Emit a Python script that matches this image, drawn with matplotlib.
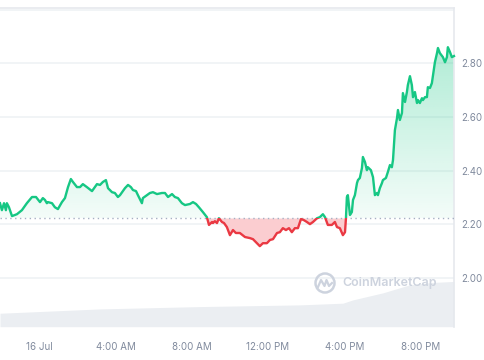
import matplotlib.pyplot as plt
import numpy as np
from matplotlib.patches import Rectangle, Circle
from matplotlib.path import Path

plt.rcParams['font.family'] = ['Inter', 'DejaVu Sans']

# price, hours relative to 16 Jul 00:00
hours = [-2.07, -1.97, -1.86, -1.76, -1.71, -1.60, -1.44, -1.18, -0.92, -0.66,
         -0.39, -0.18, 0.03, 0.18, 0.29, 0.39, 0.45, 0.66, 0.81, 0.97,
         1.18, 1.34, 1.50, 1.65, 1.76, 1.97, 2.13, 2.28, 2.49, 2.76,
         3.02, 3.18, 3.33, 3.49, 3.60, 3.81, 3.96, 4.12, 4.23, 4.49,
         4.65, 4.80, 4.91, 5.07, 5.17, 5.38, 5.43, 5.64, 5.80, 5.96,
         6.17, 6.43, 6.59, 6.75, 6.96, 7.11, 7.27, 7.48, 7.64, 7.90,
         8.06, 8.22, 8.37, 8.58, 8.79, 8.90, 9.06, 9.11, 9.21, 9.32,
         9.42, 9.58, 9.69, 9.84, 10.00, 10.16, 10.31, 10.52, 10.79, 11.05,
         11.21, 11.42, 11.57, 11.73, 11.94, 12.10, 12.26, 12.47, 12.62, 12.78,
         12.94, 13.10, 13.25, 13.41, 13.57, 13.73, 13.88, 14.04, 14.20, 14.36,
         14.57, 14.72, 14.88, 14.99, 15.14, 15.35, 15.51, 15.62, 15.77, 15.93,
         16.04, 16.09, 16.14, 16.19, 16.30, 16.40, 16.46, 16.56, 16.67, 16.72,
         16.82, 16.93, 16.98, 17.09, 17.19, 17.24, 17.40, 17.51, 17.61, 17.72,
         17.77, 17.87, 17.98, 18.03, 18.19, 18.29, 18.40, 18.50, 18.56, 18.66,
         18.77, 18.82, 18.92, 19.03, 19.08, 19.19, 19.29, 19.34, 19.45, 19.55,
         19.61, 19.71, 19.82, 19.87, 19.97, 20.08, 20.13, 20.24, 20.34, 20.39,
         20.50, 20.60, 20.66, 20.76, 20.87, 20.92, 21.02, 21.18, 21.29, 21.39,
         21.44, 21.55, 21.65, 21.76]
prices = [2.279, 2.253, 2.279, 2.253, 2.279, 2.264, 2.231, 2.238, 2.253, 2.279,
          2.302, 2.302, 2.283, 2.298, 2.291, 2.279, 2.283, 2.279, 2.264, 2.257,
          2.283, 2.298, 2.339, 2.369, 2.358, 2.339, 2.339, 2.350, 2.339, 2.324,
          2.350, 2.347, 2.358, 2.365, 2.335, 2.320, 2.317, 2.302, 2.309, 2.335,
          2.347, 2.339, 2.328, 2.324, 2.309, 2.279, 2.298, 2.309, 2.317, 2.320,
          2.313, 2.317, 2.317, 2.302, 2.313, 2.302, 2.298, 2.279, 2.272, 2.276,
          2.283, 2.276, 2.264, 2.246, 2.227, 2.198, 2.209, 2.205, 2.212, 2.205,
          2.223, 2.209, 2.205, 2.190, 2.160, 2.179, 2.168, 2.168, 2.153, 2.149,
          2.145, 2.130, 2.119, 2.130, 2.130, 2.142, 2.145, 2.168, 2.171, 2.186,
          2.179, 2.186, 2.171, 2.186, 2.186, 2.220, 2.216, 2.209, 2.201, 2.209,
          2.223, 2.227, 2.238, 2.227, 2.198, 2.198, 2.209, 2.190, 2.186, 2.160,
          2.171, 2.223, 2.302, 2.309, 2.235, 2.246, 2.291, 2.309, 2.354, 2.365,
          2.373, 2.410, 2.451, 2.432, 2.402, 2.413, 2.402, 2.376, 2.309, 2.317,
          2.309, 2.335, 2.354, 2.365, 2.373, 2.395, 2.421, 2.413, 2.440, 2.551,
          2.596, 2.626, 2.589, 2.615, 2.689, 2.656, 2.693, 2.719, 2.752, 2.719,
          2.674, 2.693, 2.652, 2.663, 2.652, 2.670, 2.663, 2.674, 2.674, 2.711,
          2.708, 2.726, 2.756, 2.804, 2.838, 2.857, 2.838, 2.823, 2.804, 2.823,
          2.860, 2.842, 2.823, 2.827]
baseline = 2.222

# volume (millions), hours
vol_hours = [-2.07, 3.18, 8.43, 13.67, 15.93, 16.46, 18.03, 19.45, 20.66, 21.76]
volume = [190, 251, 284, 308, 332, 379, 478, 592, 625, 639]

xtick_pos = [0, 4, 8, 12, 16, 20]
xtick_labels = ['16 Jul', '4:00 AM', '8:00 AM', '12:00 PM', '4:00 PM', '8:00 PM']
ytick_pos = [2.0, 2.2, 2.4, 2.6, 2.8]

green = '#16c784'
red = '#ea3943'
grey_txt = '#808a9d'
grid_c = '#eff2f5'

hours = np.array(hours)
prices = np.array(prices)

fig = plt.figure(figsize=(4.85, 3.6), dpi=100)
ax = fig.add_axes([0, 0.0925, 0.936, 0.8853])
x0, x1 = hours[0], hours[-1]
y0, y1 = 1.819, 3.006
ax.set_xlim(x0, x1)
ax.set_ylim(y0, y1)

# gridlines
for v in ytick_pos + [3.0]:
    ax.axhline(v, color=grid_c, lw=1.2, zorder=0)

# volume on a second axis
ax2 = ax.twinx()
ax2.set_ylim(0, 4500)
ax2.fill_between(vol_hours, 0, volume, color='#ebeef2', lw=0, zorder=1)
ax2.axis('off')
ax.set_zorder(ax2.get_zorder() + 1)
ax.patch.set_visible(False)

# green gradient fill above the baseline
poly = ax.fill_between(hours, baseline, prices, where=prices >= baseline,
                       interpolate=True, color='none', lw=0)
grad = np.zeros((256, 2, 4))
grad[:, :, 0] = 22 / 255
grad[:, :, 1] = 199 / 255
grad[:, :, 2] = 132 / 255
grad[:, :, 3] = np.linspace(0.34, 0.05, 256)[:, None]
img = ax.imshow(grad, extent=[x0, x1, baseline, 2.87], aspect='auto',
                origin='upper', zorder=2)
img.set_clip_path(Path.make_compound_path(*poly.get_paths()), transform=ax.transData)

# red fill below
ax.fill_between(hours, baseline, prices, where=prices <= baseline,
                interpolate=True, color='#fbcdd0', lw=0, zorder=2)

# baseline dotted
ax.axhline(baseline, color='#a6b0c3', lw=1, ls=(0, (1, 2.5)), zorder=3)

# price line, split by color
lg, = ax.plot(hours, prices, color=green, lw=1.7, zorder=4, solid_joinstyle='round')
lr, = ax.plot(hours, prices, color=red, lw=1.7, zorder=4, solid_joinstyle='round')
top_clip = Rectangle((x0 - 1, baseline), x1 - x0 + 2, 2, transform=ax.transData)
bot_clip = Rectangle((x0 - 1, baseline - 2), x1 - x0 + 2, 2, transform=ax.transData)
lg.set_clip_path(top_clip)
lr.set_clip_path(bot_clip)

# axes styling
for s in ['left', 'bottom']:
    ax.spines[s].set_visible(False)
for s in ['top', 'right']:
    ax.spines[s].set_color('#e6e9ee')
    ax.spines[s].set_linewidth(1.2)
ax.yaxis.tick_right()
ax.set_yticks(ytick_pos)
ax.set_yticklabels([f'{v:.2f}' for v in ytick_pos])
ax.set_xticks(xtick_pos)
ax.set_xticklabels(xtick_labels)
ax.tick_params(axis='both', length=0, colors=grey_txt, labelsize=7)
ax.tick_params(axis='y', pad=5)
ax.tick_params(axis='x', pad=11)

# watermark
wm = '#cdd3de'
fig.text(3.42 / 4.85, 0.214, 'CoinMarketCap', fontsize=9, color=wm,
         fontweight='semibold', va='center', ha='left')
fig.patches.append(Circle((3.25, 0.77), 0.095, transform=fig.dpi_scale_trans,
                          fill=False, ec=wm, lw=1.8))
wave_x = np.array([3.18, 3.21, 3.245, 3.265, 3.29, 3.32])
wave_y = np.array([0.73, 0.80, 0.74, 0.80, 0.74, 0.77])
fig.lines.append(plt.Line2D(wave_x, wave_y, transform=fig.dpi_scale_trans,
                            color=wm, lw=1.6))

fig.savefig('out.png', dpi=100)
